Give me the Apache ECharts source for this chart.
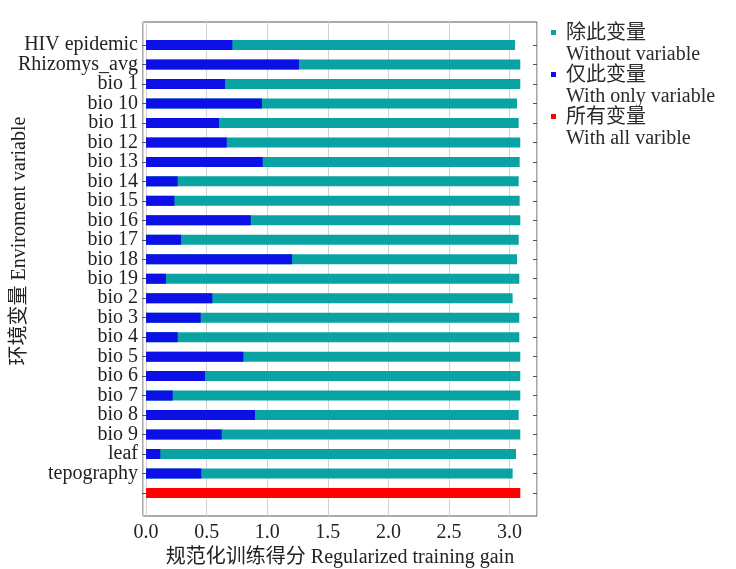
<!DOCTYPE html>
<html lang="en">
<head>
    <meta charset="UTF-8">
    <title>Jackknife</title>
    <script src="https://fastly.jsdelivr.net/npm/echarts@6/dist/echarts.min.js"></script>
    <style>
        body { margin: 0; background: #fff; }
    </style>
</head>
<body>
    <div id="dv" style="width:736px;height:569px;"></div>
</body>
<script>
   var dv = document.getElementById("dv")
   var myChart = echarts.init(dv)

   // 变量名 (最后一行为所有变量, 无标签)
   let categories = [
       'HIV epidemic', 'Rhizomys_avg', 'bio 1', 'bio 10', 'bio 11', 'bio 12', 'bio 13',
       'bio 14', 'bio 15', 'bio 16', 'bio 17', 'bio 18', 'bio 19', 'bio 2', 'bio 3',
       'bio 4', 'bio 5', 'bio 6', 'bio 7', 'bio 8', 'bio 9', 'leaf', 'tepography', ''
   ];
   // 除此变量 Without variable
   let withoutVar = [
       3.045, 3.088, 3.088, 3.061, 3.075, 3.088, 3.083,
       3.075, 3.083, 3.088, 3.075, 3.061, 3.080, 3.025, 3.080,
       3.080, 3.088, 3.088, 3.088, 3.075, 3.088, 3.053, 3.025
   ];
   // 仅此变量 With only variable
   let onlyVar = [
       0.712, 1.262, 0.652, 0.957, 0.602, 0.666, 0.963,
       0.261, 0.234, 0.864, 0.289, 1.205, 0.165, 0.547, 0.451,
       0.261, 0.803, 0.487, 0.220, 0.899, 0.624, 0.118, 0.456
   ];
   // 所有变量 With all varible
   let allVar = 3.088;

   let legendNames = ['除此变量', '仅此变量', '所有变量'];
   let legendEnglish = ['Without variable', 'With only variable', 'With all varible'];
   let xTicks = ['0.0', '0.5', '1.0', '1.5', '2.0', '2.5', '3.0'];

   let colors = ['#0aa3a3', '#0c10e6', '#ff0000'];
   let font = "'Liberation Serif', 'Noto Sans CJK SC', serif";
   let xMin = -0.025, xMax = 3.226;
   let barWidth = 10;

   let lastIdx = categories.length - 1;
   let redData = categories.map((c, i) => i === lastIdx ? allVar : null);

   option = {
       backgroundColor: '#fff',
       textStyle: { fontFamily: font },
       legend: {
           orient: 'vertical',
           left: 551,
           top: 23,
           padding: 0,
           itemWidth: 10,
           itemHeight: 42,
           itemGap: 0,
           icon: 'path://M0 7H5V12H0Z M0 0H0.01V0.01H0Z M10 42H9.99V41.99H10Z',
           data: legendNames,
           formatter: function (name) {
               return name + '\n' + legendEnglish[legendNames.indexOf(name)];
           },
           textStyle: {
               fontFamily: font,
               fontSize: 20,
               lineHeight: 21,
               color: '#2a2a2a'
           }
       },
       grid: [
           { left: 143, right: 199, top: 22, bottom: 53, outerBoundsMode: 'none', containLabel: false,
             show: true, borderColor: '#555', borderWidth: 1 },
           { left: 143, right: 199, top: 35.3, bottom: 66.3, outerBoundsMode: 'none', containLabel: false }
       ],
       xAxis: [
           {
               gridIndex: 0,
               type: 'value',
               min: xMin,
               max: xMax,
               name: '规范化训练得分 Regularized training gain',
               nameLocation: 'middle',
               nameGap: 32,
               nameMoveOverlap: false,
               nameTextStyle: { fontSize: 20, color: '#222', fontFamily: font },
               axisLine: { show: false },
               axisTick: { show: false },
               axisLabel: {
                   fontSize: 20,
                   color: '#222',
                   margin: 7,
                   showMinLabel: false,
                   showMaxLabel: false,
                   formatter: function (v) {
                       let s = v.toFixed(1);
                       return xTicks.indexOf(s) >= 0 ? s : '';
                   }
               },
               splitLine: { show: true, lineStyle: { color: '#d2d2d2', width: 1 } }
           },
           {
               gridIndex: 1,
               type: 'value',
               min: xMin,
               max: xMax,
               show: false
           }
       ],
       yAxis: [
           { gridIndex: 0, type: 'value', show: false },
           {
               gridIndex: 1,
               type: 'category',
               inverse: true,
               data: categories,
               name: '环境变量 Enviroment variable',
               nameLocation: 'middle',
               nameGap: 113,
               nameMoveOverlap: false,
               nameTextStyle: { fontSize: 20, color: '#222', fontFamily: font, padding: [0, 0, 0, 56] },
               axisLine: { show: false },
               axisTick: { show: true, alignWithLabel: true, length: 4, lineStyle: { color: '#555' } },
               axisLabel: { fontSize: 20, color: '#222', margin: 5, interval: 0 },
               splitLine: { show: false }
           },
           {
               gridIndex: 1,
               type: 'category',
               inverse: true,
               position: 'right',
               data: categories,
               axisLine: { show: false },
               axisTick: { show: true, inside: true, alignWithLabel: true, length: 4, lineStyle: { color: '#555' } },
               axisLabel: { show: false },
               splitLine: { show: false }
           }
       ],
       series: [
           {
               name: legendNames[0],
               type: 'bar',
               xAxisIndex: 1,
               yAxisIndex: 1,
               barWidth: barWidth,
               barGap: '-100%',
               itemStyle: { color: colors[0] },
               data: withoutVar.concat([null])
           },
           {
               name: legendNames[1],
               type: 'bar',
               xAxisIndex: 1,
               yAxisIndex: 1,
               barWidth: barWidth,
               barGap: '-100%',
               itemStyle: { color: colors[1] },
               data: onlyVar.concat([null])
           },
           {
               name: legendNames[2],
               type: 'bar',
               xAxisIndex: 1,
               yAxisIndex: 1,
               barWidth: barWidth,
               barGap: '-100%',
               itemStyle: { color: colors[2] },
               data: redData
           }
       ]
   }
   myChart.setOption(option)
</script>
</html>
